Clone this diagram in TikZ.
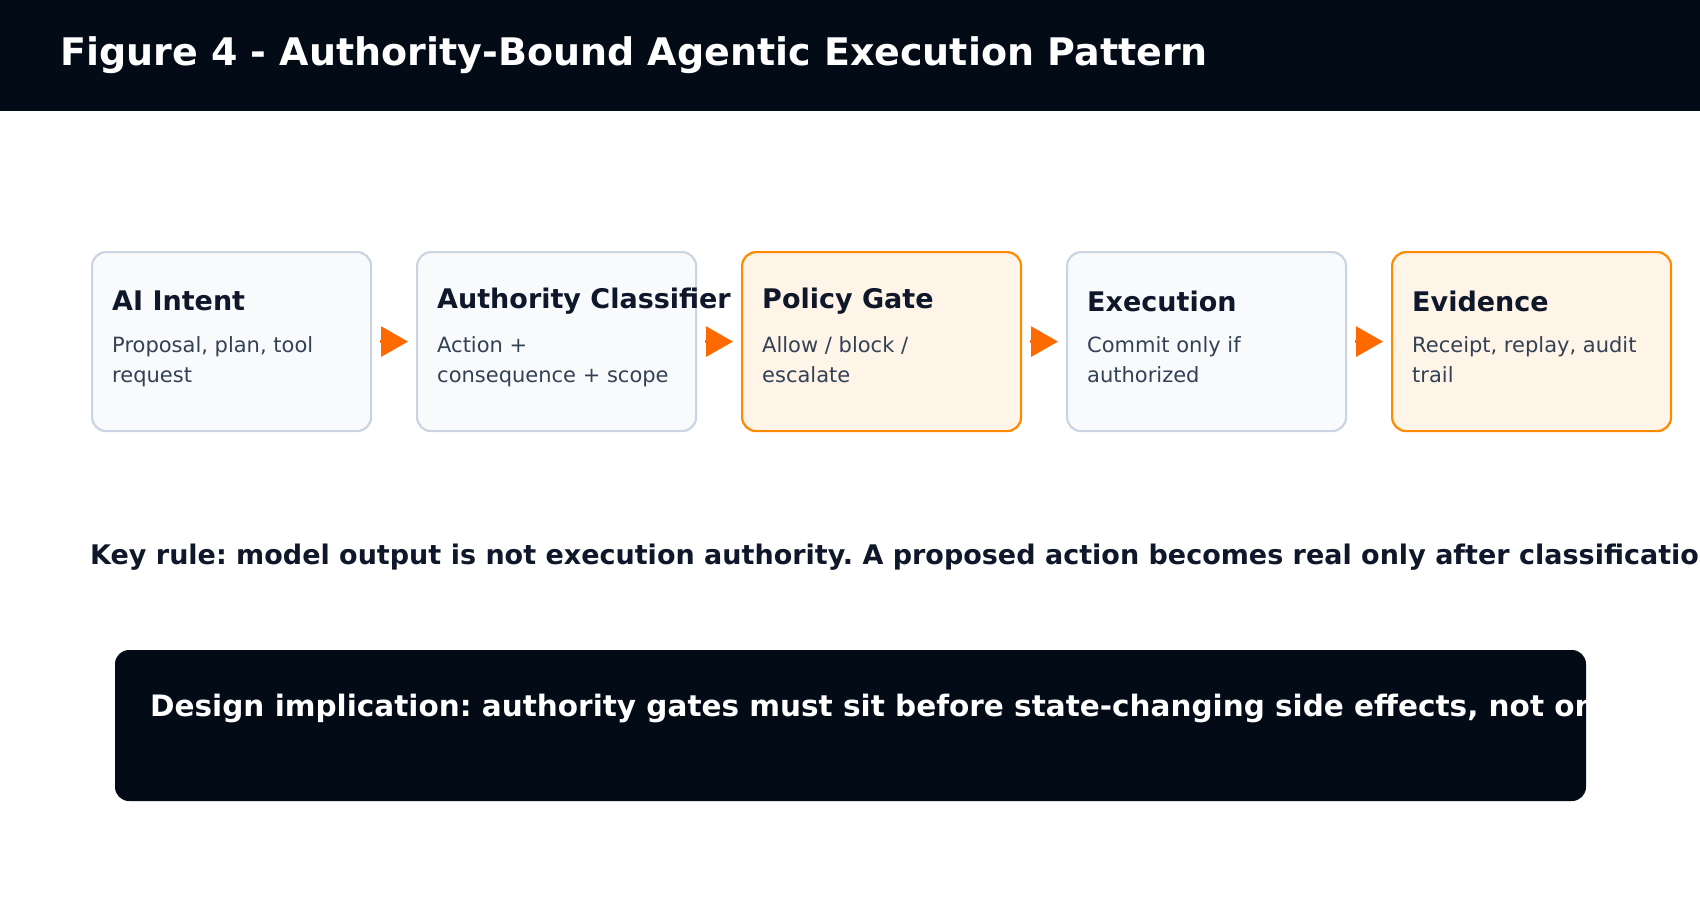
\documentclass[tikz,border=0pt]{standalone}
\usepackage{fontspec}
\setmainfont{DejaVu Sans}
\frenchspacing
\usetikzlibrary{positioning,arrows.meta}
\definecolor{ink}{HTML}{030B17}
\definecolor{txt}{HTML}{0F172A}
\definecolor{subtxt}{HTML}{334155}
\definecolor{grayfill}{HTML}{F8FAFC}
\definecolor{grayline}{HTML}{CBD5E1}
\definecolor{orfill}{HTML}{FFF4E8}
\definecolor{orline}{HTML}{FF8A00}
\definecolor{arrowor}{HTML}{FF6A00}
\tikzset{
  stage/.style={draw=grayline,fill=grayfill,line width=2.2pt,rounded corners=14pt,
    minimum width=279pt,minimum height=179pt,inner sep=0pt},
  hot/.style={stage,draw=orline,fill=orfill},
  head/.style={anchor=west,inner sep=0pt,text=txt,font=\fontsize{27}{30}\selectfont\bfseries},
  desc/.style={anchor=north west,inner sep=0pt,text=subtxt,align=left,
    font=\fontsize{21}{30}\selectfont},
  flow/.style={draw=arrowor,line width=3pt,shorten <=8pt,shorten >=8pt,
    -{Triangle[length=27pt,width=30pt]}}
}
\begin{document}
\begin{tikzpicture}[x=1pt,y=-1pt]
  \useasboundingbox (0,0) rectangle (1700,920);
  \fill[ink] (0,0) rectangle (1700,111);
  \node[anchor=west,text=white,inner sep=0pt,font=\fontsize{38}{42}\selectfont\bfseries]
    (title) at (60,55) {Figure 4 - Authority-Bound Agentic Execution Pattern};

  % the five stages
  \foreach \n/\x/\s/\h/\d in {intent/91/stage/AI Intent/{Proposal, plan, tool\\request},
    classifier/416/stage/Authority Classifier/{Action +\\consequence + scope},
    gate/741/hot/Policy Gate/{Allow / block /\\escalate},
    execution/1066/stage/Execution/{Commit only if\\authorized},
    evidence/1391/hot/Evidence/{Receipt, replay, audit\\trail}}
  {
    \node[\s,anchor=north west] (\n) at (\x,251) {};
    \node[head] (\n-head) at ([xshift=21pt,yshift=-50pt]\n.north west) {\h};
    \node[desc] (\n-desc) at ([xshift=21pt,yshift=-85pt]\n.north west) {\d};
  }

  \draw[flow] (intent) -- (classifier);
  \draw[flow] (classifier) -- (gate);
  \draw[flow] (gate) -- (execution);
  \draw[flow] (execution) -- (evidence);

  \node[anchor=west,inner sep=0pt,text=txt,font=\fontsize{27}{30}\selectfont\bfseries]
    (rule) at (90,557) {Key rule: model output is not execution authority. A proposed action becomes real only after classification, policy and evidence.};

  % implication banner, text clipped at its edge
  \fill[ink,rounded corners=14pt] (115,650) rectangle (1586,801);
  \begin{scope}
    \clip (115,650) rectangle (1586,801);
    \node[anchor=west,inner sep=0pt,text=white,font=\fontsize{29.5}{33}\selectfont\bfseries]
      (implication) at (150,708) {Design implication: authority gates must sit before state-changing side effects, not only after them.};
  \end{scope}
\end{tikzpicture}
\end{document}
